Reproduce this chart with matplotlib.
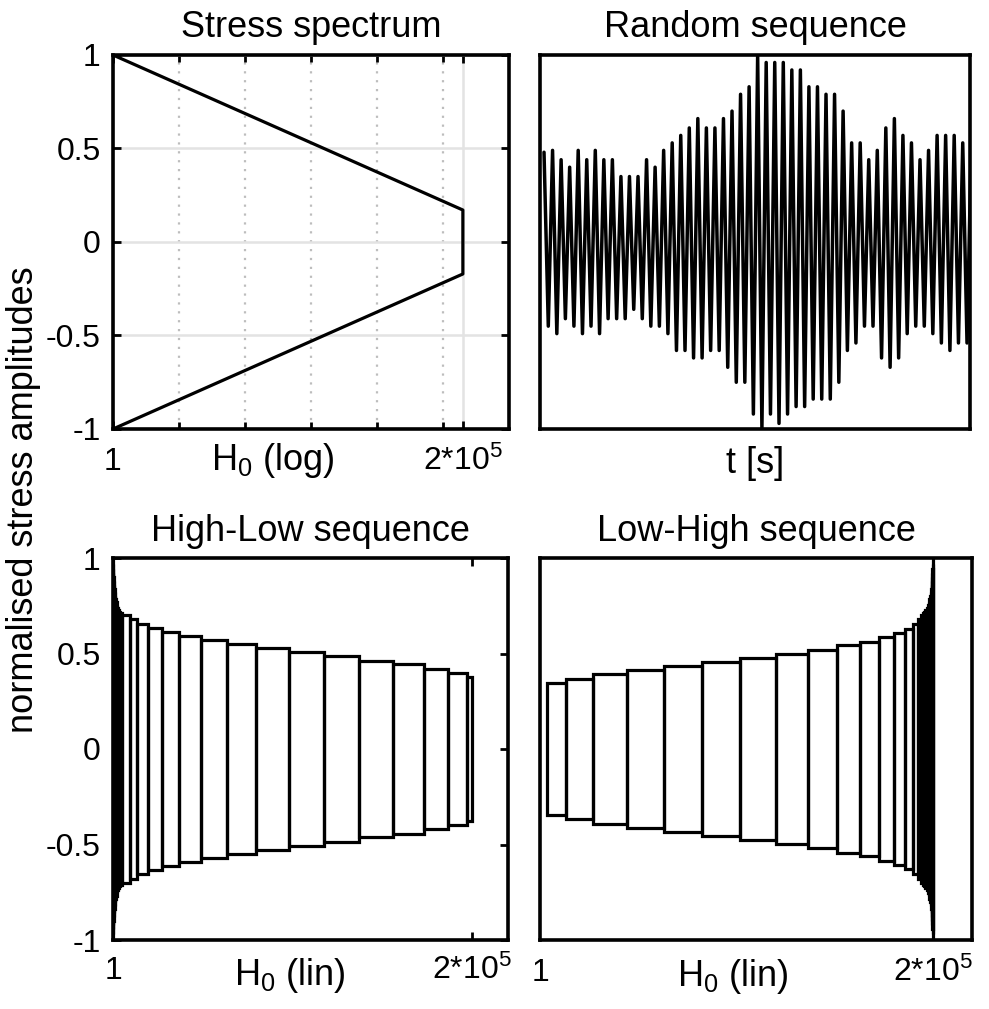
import matplotlib
matplotlib.use("Agg")
import matplotlib.pyplot as plt
from matplotlib.patches import Rectangle
from matplotlib.ticker import NullFormatter
from matplotlib.transforms import ScaledTranslation

plt.rcParams['font.family'] = ['Liberation Sans', 'DejaVu Sans']
plt.rcParams['mathtext.default'] = 'regular'

# ---- stress spectrum (log cumulative count vs normalised amplitude) ----
spectrum_H = [1, 2e5]
spectrum_amp = [1.0, 0.171]

# ---- random sequence: alternating peaks / troughs ----
rand_peaks = [0.48, 0.49, 0.44, 0.40, 0.49, 0.44, 0.49, 0.44, 0.44, 0.35,
              0.35, 0.35, 0.44, 0.40, 0.49, 0.53, 0.57, 0.61, 0.66, 0.61,
              0.61, 0.66, 0.70, 0.79, 0.83, 1.00, 0.96, 0.96, 0.96, 0.92,
              0.92, 0.83, 0.83, 0.79, 0.79, 0.70, 0.53, 0.53, 0.44, 0.49,
              0.61, 0.66, 0.57, 0.53, 0.44, 0.49, 0.57, 0.57, 0.57, 0.53]
rand_troughs = [-0.45, -0.49, -0.41, -0.45, -0.49, -0.45, -0.49, -0.41, -0.41, -0.41,
                -0.36, -0.41, -0.45, -0.45, -0.49, -0.58, -0.58, -0.62, -0.62, -0.58,
                -0.58, -0.67, -0.75, -0.75, -0.92, -1.00, -0.92, -0.97, -0.92, -0.88,
                -0.88, -0.84, -0.84, -0.84, -0.75, -0.58, -0.54, -0.45, -0.45, -0.62,
                -0.67, -0.62, -0.49, -0.45, -0.45, -0.49, -0.54, -0.58, -0.54, -0.54]
rand_last = 0.53

# ---- High-Low block sequence: block end counts and amplitudes ----
hl_ends = [15, 50, 110, 200, 320, 470, 650, 860, 1100, 1380, 1700, 2060, 2470,
           2950, 3500, 4150, 4850, 9470, 13530, 19330, 27130, 36930, 49020,
           63330, 79650, 98200, 117500, 137200, 155800, 173200, 186800, 197000, 200000]
hl_amp = [1.0, 0.97, 0.945, 0.92, 0.90, 0.88, 0.86, 0.84, 0.82, 0.80, 0.785, 0.77, 0.755,
          0.74, 0.728, 0.718, 0.71, 0.70, 0.68, 0.654, 0.633, 0.612, 0.593,
          0.571, 0.55, 0.528, 0.506, 0.487, 0.462, 0.445, 0.419, 0.40, 0.379]

# ---- Low-High block sequence: block end counts and amplitudes ----
lh_start = 3400
lh_ends = [13080, 27130, 44130, 63270, 82610, 101800, 120100, 136600, 151300,
           162900, 172700, 180200, 185800, 190000, 192600, 193900,
           194800, 195600, 196300, 196900, 197450, 197900, 198300, 198650,
           198950, 199200, 199400, 199560, 199690, 199790, 199870, 199930,
           199975, 200000]
lh_amp = [0.347, 0.366, 0.393, 0.414, 0.436, 0.457, 0.478, 0.497, 0.518,
          0.542, 0.562, 0.588, 0.609, 0.63, 0.654, 0.68,
          0.70, 0.71, 0.718, 0.728, 0.74, 0.755, 0.77, 0.785,
          0.80, 0.82, 0.84, 0.86, 0.88, 0.90, 0.92, 0.945,
          0.97, 1.0]

ytick_vals = [-1, -0.5, 0, 0.5, 1]
ytick_text = ['-1', '-0.5', '0', '0.5', '1']
xtick_vals = [1, 2e5]
xtick_text = ['1', '2*10$^5$']

FS_TICK = 23
FS_TEXT = 26
LW = 2.3
SPINE = 2.6

W, H = 989, 1009
fig = plt.figure(figsize=(W / 100, H / 100), dpi=100)


def add_axes(x0, y0, x1, y1):
    return fig.add_axes([x0 / W, 1 - y1 / H, (x1 - x0) / W, (y1 - y0) / H])


def down(px):
    return ScaledTranslation(0, -px / 100, fig.dpi_scale_trans)


def style(ax):
    for s in ax.spines.values():
        s.set_linewidth(SPINE)
    ax.tick_params(direction='in', top=True, right=True, labelsize=FS_TICK,
                   width=2, length=6, pad=9, labelbottom=False)


def xtick_labels(ax, dy=40):
    tr = ax.get_xaxis_transform() + down(dy)
    for v, t in zip(xtick_vals, xtick_text):
        ax.text(v, 0, t, transform=tr, ha='center', va='baseline',
                fontsize=FS_TICK)


def xlabel(ax, frac, text, dy=44):
    ax.text(frac, 0, text, transform=ax.transAxes + down(dy),
            ha='center', va='baseline', fontsize=FS_TEXT)


def blocks(ax, starts, ends, amps):
    for x0, x1, a in zip(starts, ends, amps):
        ax.add_patch(Rectangle((x0, -a), x1 - x0, 2 * a, fill=False,
                               lw=LW, ec='black', joinstyle='miter'))


ax1 = add_axes(113, 55, 509, 429)
ax2 = add_axes(540, 55, 970, 429)
ax3 = add_axes(113, 558, 508, 940)
ax4 = add_axes(540, 558, 972, 940)

# Stress spectrum
x_sp = [spectrum_H[0], spectrum_H[1], spectrum_H[1], spectrum_H[0]]
y_sp = [spectrum_amp[0], spectrum_amp[1], -spectrum_amp[1], -spectrum_amp[0]]
ax1.plot(x_sp, y_sp, color='black', lw=LW, zorder=3)
ax1.set_xscale('log')
ax1.set_xlim(1, 1e6)
ax1.set_ylim(-1, 1)
style(ax1)
ax1.set_xticks(xtick_vals)
ax1.set_xticks([10, 100, 1e3, 1e4, 1e5], minor=True)
ax1.xaxis.set_minor_formatter(NullFormatter())
ax1.tick_params(which='minor', direction='in', top=True, bottom=True,
                width=2, length=5)
ax1.set_yticks(ytick_vals)
ax1.set_yticklabels(ytick_text)
ax1.grid(which='major', color='#e3e3e3', lw=1.8, ls='-')
ax1.grid(which='minor', axis='x', color='#bdbdbd', lw=1.6, ls=(0, (1, 3)))
ax1.set_axisbelow(True)
ax1.set_title('Stress spectrum', fontsize=FS_TEXT, pad=13)
xtick_labels(ax1, 41)
xlabel(ax1, (273 - 113) / 396, 'H$_0$ (log)', 41)

# Random sequence
seq = []
for p, t in zip(rand_peaks, rand_troughs):
    seq += [p, t]
seq.append(rand_last)
ax2.plot(range(len(seq)), seq, color='black', lw=2.5,
         solid_joinstyle='round', solid_capstyle='round')
ax2.set_xlim(-0.94, 99.7)
ax2.set_ylim(-1, 1)
style(ax2)
ax2.set_xticks([])
ax2.set_yticks([])
ax2.set_title('Random sequence', fontsize=FS_TEXT, pad=13)
xlabel(ax2, 0.5, 't [s]', 44)

# High-Low sequence
blocks(ax3, [0] + hl_ends[:-1], hl_ends, hl_amp)
ax3.set_xlim(0, 2.2e5)
ax3.set_ylim(-1, 1)
style(ax3)
ax3.set_xticks(xtick_vals)
ax3.set_yticks(ytick_vals)
ax3.set_yticklabels(ytick_text)
ax3.set_title('High-Low sequence', fontsize=FS_TEXT, pad=12)
xtick_labels(ax3, 39)
xlabel(ax3, (290 - 113) / 395, 'H$_0$ (lin)', 45)

# Low-High sequence
blocks(ax4, [lh_start] + lh_ends[:-1], lh_ends, lh_amp)
ax4.set_xlim(0, 2.2e5)
ax4.set_ylim(-1, 1)
style(ax4)
ax4.set_xticks(xtick_vals)
ax4.tick_params(length=0)
ax4.set_yticks([])
ax4.set_title('Low-High sequence', fontsize=FS_TEXT, pad=12)
xtick_labels(ax4, 41)
xlabel(ax4, (733 - 540) / 432, 'H$_0$ (lin)', 46)

fig.text(24 / W, 1 - 500 / H, 'normalised stress amplitudes', rotation=90,
         ha='center', va='center', fontsize=FS_TEXT)

fig.savefig('out.png', dpi=100)
